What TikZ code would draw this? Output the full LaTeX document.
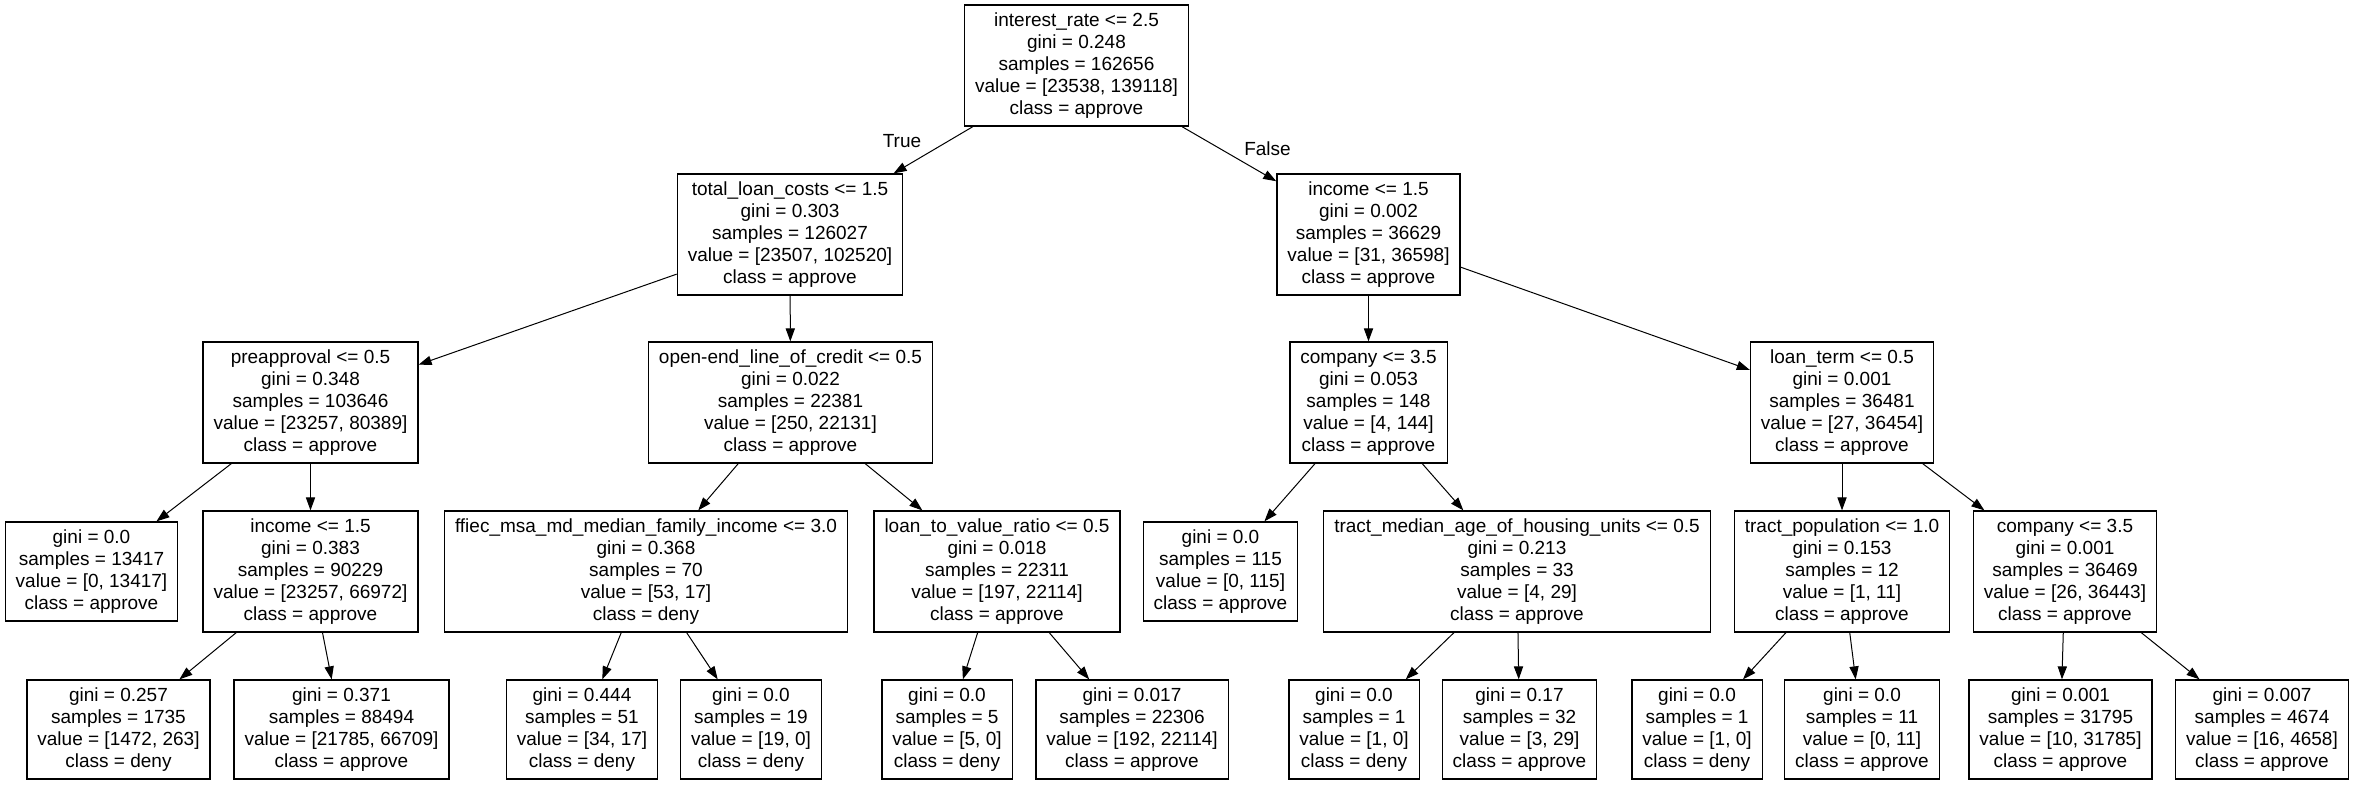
\documentclass[tikz,border=0pt]{standalone}
\usepackage{fontspec}
\setmainfont{Liberation Sans}
\usetikzlibrary{arrows.meta}

\begin{document}
\begin{tikzpicture}[x=0.5pt,y=-0.5pt,
  split/.style={draw,line width=0.65pt,align=center,inner xsep=5.25pt,inner ysep=1pt,minimum height=60.5pt,font=\fontsize{9.5pt}{11pt}\selectfont},
  leaf/.style={split,minimum height=49.5pt},
  lbl/.style={inner sep=0pt,font=\fontsize{9.5pt}{11pt}\selectfont},
  edge/.style={-{Triangle[length=6.5pt,width=4.6pt]},line width=0.5pt}]
\useasboundingbox (0,0) rectangle (2354,784);
\node[split] (n0) at (1076.5,65.5) {interest\_rate <= 2.5\\gini = 0.248\\samples = 162656\\value = [23538, 139118]\\class = approve};
\node[split] (n1) at (790,234.5) {total\_loan\_costs <= 1.5\\gini = 0.303\\samples = 126027\\value = [23507, 102520]\\class = approve};
\node[split] (n14) at (1368.5,234.5) {income <= 1.5\\gini = 0.002\\samples = 36629\\value = [31, 36598]\\class = approve};
\node[split] (n2) at (310.5,402.5) {preapproval <= 0.5\\gini = 0.348\\samples = 103646\\value = [23257, 80389]\\class = approve};
\node[split] (n7) at (790.5,402.5) {open-end\_line\_of\_credit <= 0.5\\gini = 0.022\\samples = 22381\\value = [250, 22131]\\class = approve};
\node[split] (n15) at (1368.5,402.5) {company <= 3.5\\gini = 0.053\\samples = 148\\value = [4, 144]\\class = approve};
\node[split] (n20) at (1842,402.5) {loan\_term <= 0.5\\gini = 0.001\\samples = 36481\\value = [27, 36454]\\class = approve};
\node[leaf] (n3) at (91.5,571.5) {gini = 0.0\\samples = 13417\\value = [0, 13417]\\class = approve};
\node[split] (n4) at (310.5,571.5) {income <= 1.5\\gini = 0.383\\samples = 90229\\value = [23257, 66972]\\class = approve};
\node[split] (n8) at (646,571.5) {ffiec\_msa\_md\_median\_family\_income <= 3.0\\gini = 0.368\\samples = 70\\value = [53, 17]\\class = deny};
\node[split] (n11) at (997,571.5) {loan\_to\_value\_ratio <= 0.5\\gini = 0.018\\samples = 22311\\value = [197, 22114]\\class = approve};
\node[leaf] (n16) at (1220.5,571.5) {gini = 0.0\\samples = 115\\value = [0, 115]\\class = approve};
\node[split] (n17) at (1517,571.5) {tract\_median\_age\_of\_housing\_units <= 0.5\\gini = 0.213\\samples = 33\\value = [4, 29]\\class = approve};
\node[split] (n21) at (1842,571.5) {tract\_population <= 1.0\\gini = 0.153\\samples = 12\\value = [1, 11]\\class = approve};
\node[split] (n24) at (2065,571.5) {company <= 3.5\\gini = 0.001\\samples = 36469\\value = [26, 36443]\\class = approve};
\node[leaf] (n5) at (118.5,729.5) {gini = 0.257\\samples = 1735\\value = [1472, 263]\\class = deny};
\node[leaf] (n6) at (341.5,729.5) {gini = 0.371\\samples = 88494\\value = [21785, 66709]\\class = approve};
\node[leaf] (n9) at (582,729.5) {gini = 0.444\\samples = 51\\value = [34, 17]\\class = deny};
\node[leaf] (n10) at (751,729.5) {gini = 0.0\\samples = 19\\value = [19, 0]\\class = deny};
\node[leaf] (n12) at (947,729.5) {gini = 0.0\\samples = 5\\value = [5, 0]\\class = deny};
\node[leaf] (n13) at (1132,729.5) {gini = 0.017\\samples = 22306\\value = [192, 22114]\\class = approve};
\node[leaf] (n18) at (1354,729.5) {gini = 0.0\\samples = 1\\value = [1, 0]\\class = deny};
\node[leaf] (n19) at (1519.5,729.5) {gini = 0.17\\samples = 32\\value = [3, 29]\\class = approve};
\node[leaf] (n22) at (1697,729.5) {gini = 0.0\\samples = 1\\value = [1, 0]\\class = deny};
\node[leaf] (n23) at (1862,729.5) {gini = 0.0\\samples = 11\\value = [0, 11]\\class = approve};
\node[leaf] (n25) at (2060.5,729.5) {gini = 0.001\\samples = 31795\\value = [10, 31785]\\class = approve};
\node[leaf] (n26) at (2262,729.5) {gini = 0.007\\samples = 4674\\value = [16, 4658]\\class = approve};
\node[lbl] (ltrue) at (902,141.5) {True};
\node[lbl] (lfalse) at (1267.5,148.5) {False};
\draw[edge] (n0) -- (n1);
\draw[edge] (n0) -- (n14);
\draw[edge] (n1) -- (n2);
\draw[edge] (n1) -- (n7);
\draw[edge] (n2) -- (n3);
\draw[edge] (n2) -- (n4);
\draw[edge] (n4) -- (n5);
\draw[edge] (n4) -- (n6);
\draw[edge] (n7) -- (n8);
\draw[edge] (n7) -- (n11);
\draw[edge] (n8) -- (n9);
\draw[edge] (n8) -- (n10);
\draw[edge] (n11) -- (n12);
\draw[edge] (n11) -- (n13);
\draw[edge] (n14) -- (n15);
\draw[edge] (n14) -- (n20);
\draw[edge] (n15) -- (n16);
\draw[edge] (n15) -- (n17);
\draw[edge] (n17) -- (n18);
\draw[edge] (n17) -- (n19);
\draw[edge] (n20) -- (n21);
\draw[edge] (n20) -- (n24);
\draw[edge] (n21) -- (n22);
\draw[edge] (n21) -- (n23);
\draw[edge] (n24) -- (n25);
\draw[edge] (n24) -- (n26);
\end{tikzpicture}
\end{document}
